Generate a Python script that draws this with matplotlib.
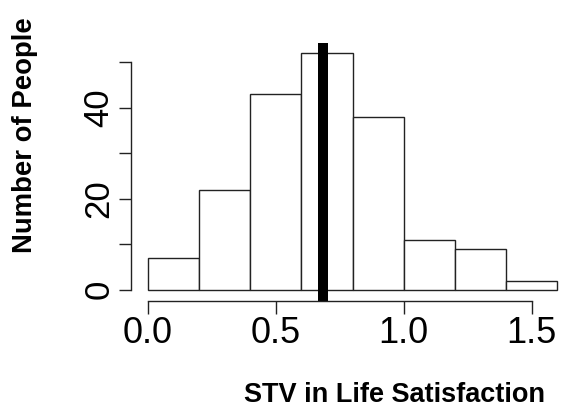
import matplotlib
matplotlib.use("Agg")
import matplotlib.pyplot as plt
import numpy as np

# histogram bins and counts
bin_edges = [0.0, 0.2, 0.4, 0.6, 0.8, 1.0, 1.2, 1.4, 1.6]
counts = [7, 22, 43, 52, 38, 11, 9, 2]
mean_stv = 0.685

x_ticks = [0.0, 0.5, 1.0, 1.5]
x_labels = ["0.0", "0.5", "1.0", "1.5"]
y_ticks = [0, 10, 20, 30, 40, 50]
y_labels = ["0", "", "20", "", "40", ""]

plt.rcParams['font.family'] = ['Liberation Sans', 'DejaVu Sans']

fig = plt.figure(figsize=(5.61, 4.07), dpi=100)
ax = fig.add_axes([0.2335, 0.2604, 0.789, 0.6347])

lefts = np.array(bin_edges[:-1])
widths = np.diff(bin_edges)
ax.bar(lefts, counts, width=widths, align='edge', facecolor='white',
       edgecolor='#222222', linewidth=1.0)
ax.axvline(mean_stv, color='black', linewidth=7.2)

ax.set_xlim(-0.0665, 1.664)
ax.set_ylim(-2.5, 54.3)

for side in ['top', 'right']:
    ax.spines[side].set_visible(False)
ax.spines['left'].set_bounds(0, 50)
ax.spines['bottom'].set_bounds(0, 1.5)
for side in ['left', 'bottom']:
    ax.spines[side].set_linewidth(1.0)
    ax.spines[side].set_color('#222222')

ax.set_xticks(x_ticks)
ax.set_xticklabels(x_labels, fontsize=26)
ax.set_yticks(y_ticks)
ax.set_yticklabels(y_labels, fontsize=25, rotation=90, va='center')
ax.tick_params(axis='both', direction='out', length=9, width=1.0,
               color='#222222', pad=2)

fig.text(394.5 / 561, 1 - 395 / 407, "STV in Life Satisfaction",
         fontsize=19.5, fontweight='bold', ha='center', va='center')
fig.text(25 / 561, 1 - 253 / 407, "Number of People", fontsize=19.8,
         fontweight='bold', rotation=90, ha='center', va='bottom')

fig.savefig("out.png", dpi=100)
